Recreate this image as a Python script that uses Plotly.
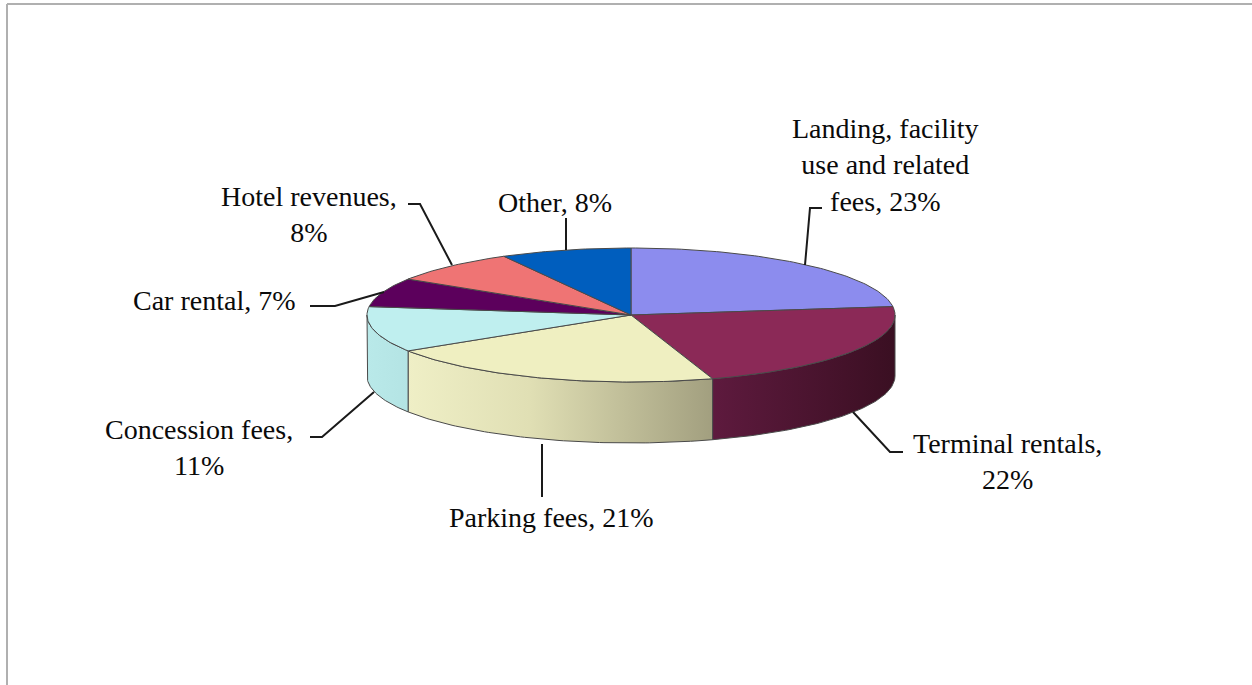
import numpy as np
import plotly.graph_objects as go

# ---- data ----
categories = ["Landing, facility<br>use and related<br>fees", "Terminal rentals", "Parking fees",
              "Concession fees", "Car rental", "Hotel revenues", "Other"]
values = [23, 22, 21, 11, 7, 8, 8]
separators = [", ", ",<br>", ", ", ",<br>", ", ", ",<br>", ", "]

# ---- styles ----
top_colors = ["#8C8CEE", "#8B2957", "#EFEFC1", "#BFEFEF", "#5C005C", "#EF7474", "#005EBE"]
side_scales = [
    [[0, "#6E6EC0"], [1, "#5050A0"]],
    [[0, "#5E1A3E"], [1, "#3A0F22"]],
    [[0, "#EFEFC6"], [0.4, "#E0DFB4"], [1, "#A29F7F"]],
    [[0, "#B9E9E9"], [1, "#B4E4E4"]],
    [[0, "#4A004A"], [1, "#3A003A"]],
    [[0, "#C85C5C"], [1, "#B04848"]],
    [[0, "#004C9C"], [1, "#003C80"]],
]
# label centres (layout positions, px)
label_pos = [(885, 165), (1007, 461), (551, 517), (199, 447), (214, 300), (309, 214), (555, 202)]
leaders = [
    [(822, 208), (810, 208), (805, 265)],
    [(853, 412), (890, 452), (903, 452)],
    [(542, 444), (542, 497)],
    [(310, 437), (322, 437), (374, 392)],
    [(310, 306), (335, 306), (384, 292)],
    [(408, 204), (420, 204), (452, 265)],
    [(566, 218), (566, 250)],
]

W, H = 1252, 685
cx, cy, a, b, depth = 631, 315, 264, 67, 61


def arc(t0, t1, dy=0, n=None):
    if n is None:
        n = max(2, int(abs(t1 - t0) / 1.0) + 2)
    t = np.radians(np.linspace(t0, t1, n))
    return cx + a * np.sin(t), cy - b * np.cos(t) + dy


total = float(sum(values))
bounds = np.concatenate([[0], np.cumsum(values)]) / total * 360.0

fig = go.Figure()

# sides (front half only)
for i in range(len(values)):
    s0, s1 = max(bounds[i], 90.0), min(bounds[i + 1], 270.0)
    if s1 <= s0:
        continue
    xt, yt = arc(s0, s1)
    xb, yb = arc(s1, s0, dy=depth)
    xs = np.concatenate([xt, xb, xt[:1]])
    ys = np.concatenate([yt, yb, yt[:1]])
    fig.add_trace(go.Scatter(
        x=xs, y=ys, mode="lines", fill="toself",
        fillgradient=dict(type="horizontal", colorscale=side_scales[i]),
        line=dict(color="#4A4A4A", width=1), hoverinfo="skip", showlegend=False))

# top faces
for i in range(len(values)):
    xt, yt = arc(bounds[i], bounds[i + 1])
    xs = np.concatenate([[cx], xt, [cx]])
    ys = np.concatenate([[cy], yt, [cy]])
    fig.add_trace(go.Scatter(
        x=xs, y=ys, mode="lines", fill="toself", fillcolor=top_colors[i],
        line=dict(color="#4A4A4A", width=1), hoverinfo="skip", showlegend=False))

# leader lines
for pts in leaders:
    fig.add_trace(go.Scatter(
        x=[p[0] for p in pts], y=[p[1] for p in pts], mode="lines",
        line=dict(color="#1A1A1A", width=2), hoverinfo="skip", showlegend=False))

# labels
for i in range(len(values)):
    txt = f"{categories[i]}{separators[i]}{values[i]}%"
    fig.add_annotation(x=label_pos[i][0], y=label_pos[i][1], text=txt, showarrow=False,
                       xanchor="center", yanchor="middle", align="center",
                       font=dict(family="Liberation Serif", size=28, color="#0A0A0A"))

# border (top and left)
fig.add_shape(type="line", x0=7, y0=4, x1=W, y1=4, line=dict(color="#B0B0B0", width=2))
fig.add_shape(type="line", x0=7, y0=4, x1=7, y1=H, line=dict(color="#B0B0B0", width=2))

fig.update_layout(
    width=W, height=H, margin=dict(l=0, r=0, t=0, b=0),
    paper_bgcolor="white", plot_bgcolor="white",
    xaxis=dict(range=[0, W], visible=False, fixedrange=True),
    yaxis=dict(range=[H, 0], visible=False, fixedrange=True),
    showlegend=False,
)

fig.write_html("out.html", config={"displayModeBar": False},
               post_script="document.body.style.margin='0';document.body.style.overflow='hidden';")
